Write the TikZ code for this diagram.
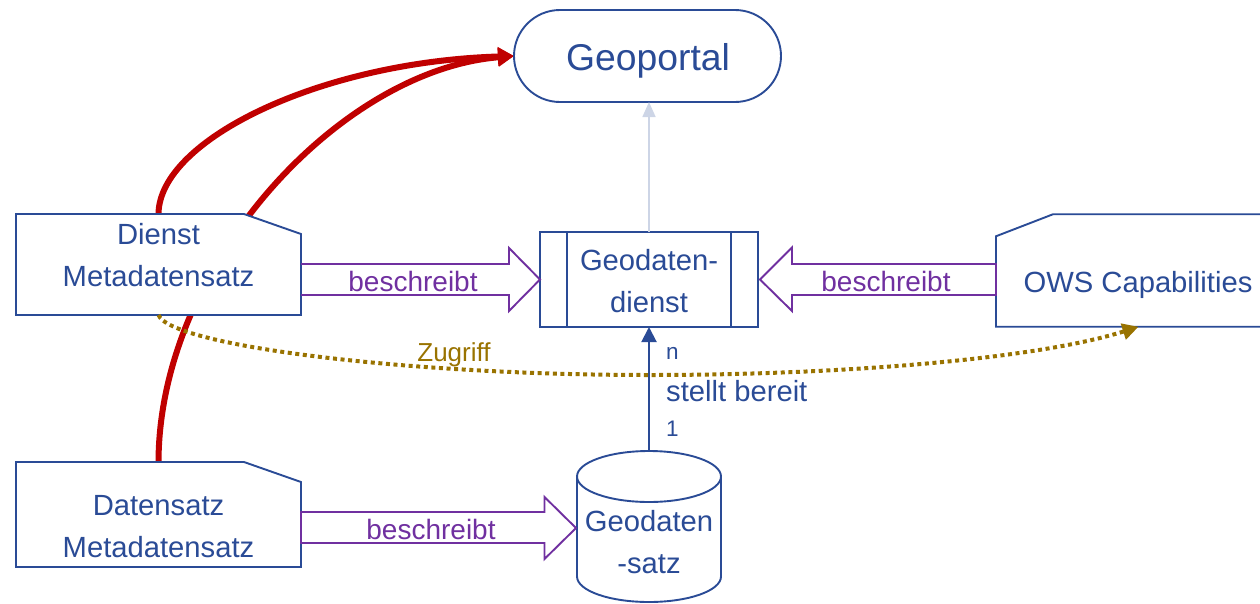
\documentclass[tikz,border=0pt]{standalone}
\usepackage{fontspec}
\setmainfont{Liberation Sans}
\usetikzlibrary{arrows.meta,shapes.misc,calc,backgrounds}
\definecolor{dblue}{HTML}{2A4B96}
\definecolor{dpurple}{HTML}{7030A0}
\definecolor{dred}{HTML}{C00000}
\definecolor{dgold}{HTML}{997300}
\definecolor{dlight}{HTML}{CDD5E6}
\tikzset{
  x=1pt,y=-1pt,
  boxline/.style={draw=dblue,line width=1.9pt,fill=white},
  plainbox/.style={inner sep=0pt,outer sep=0pt},
  blue text/.style={text=dblue,align=center,inner sep=0pt,font=\fontsize{29.2}{42}\selectfont},
  purple text/.style={text=dpurple,inner sep=0pt,font=\fontsize{28}{30}\selectfont},
  blockarrow/.style={draw=dpurple,line width=1.9pt,line join=miter},
  redcurve/.style={draw=dred,line width=6pt,-{Triangle[length=16pt,width=18pt]}},
  goldcurve/.style={draw=dgold,line width=4pt,dash pattern=on 4pt off 3.6pt,
     -{Triangle[length=16pt,width=16pt]}},
}
\begin{document}
\begin{tikzpicture}
\clip (0,0) rectangle (1260,603);

% shapes
\node[boxline,shape=rounded rectangle,inner sep=0pt,outer sep=0pt,minimum width=267pt,minimum height=92pt] (portal) at (647.5,56) {};
\node[plainbox,minimum width=285pt,minimum height=101pt] (dm) at (158.5,264.5) {};
\draw[boxline] (dm.north west) -- ($(dm.north east)+(-57,0)$) -- ($(dm.north east)+(0,20)$) -- (dm.south east) -- (dm.south west) -- cycle;
\node[plainbox,minimum width=285pt,minimum height=105pt] (ddm) at (158.5,514.5) {};
\draw[boxline] (ddm.north west) -- ($(ddm.north east)+(-57,0)$) -- ($(ddm.north east)+(0,20)$) -- (ddm.south east) -- (ddm.south west) -- cycle;
\node[plainbox,minimum width=285pt,minimum height=112.5pt] (ows) at (1138.5,270.5) {};
\draw[boxline] ($(ows.north west)+(57,0)$) -- (ows.north east) -- (ows.south east) -- (ows.south west) -- ($(ows.north west)+(0,22)$) -- cycle;
\node[boxline,plainbox,minimum width=218pt,minimum height=95pt] (gd) at (649,279.5) {};
\draw[boxline] ($(gd.north west)+(27,0)$) -- ($(gd.south west)+(27,0)$);
\draw[boxline] ($(gd.north east)+(-27,0)$) -- ($(gd.south east)+(-27,0)$);
\node[plainbox,minimum width=144pt,minimum height=151pt] (ds) at (649,526.5) {};
\draw[boxline] (577,476.5) -- (577,576.5) .. controls (577,590.6) and (609.2,602) .. (649,602)
   .. controls (688.8,602) and (721,590.6) .. (721,576.5) -- (721,476.5);
\draw[boxline] ($(ds.north)+(0,25.5)$) ellipse [x radius=72, y radius=25.5];

% red curves run behind the boxes
\begin{pgfonlayer}{background}
\draw[redcurve] (ddm.north) .. controls (159,265) and (340,70) .. (portal.west);
\draw[redcurve] (dm.north) .. controls (159,140) and (320,62) .. (portal.west);
\end{pgfonlayer}

% connectors
\draw[draw=dlight,line width=1.6pt,-{Triangle[length=15pt,width=13pt]}] (gd.north) -- (gd.north |- portal.south);
\draw[draw=dblue,line width=2pt,-{Triangle[length=15pt,width=15pt]}] (ds.north) -- (gd.south);
\draw[goldcurve] (dm.south) .. controls (170,345) and (400,375) .. (649,375)
   .. controls (850,375) and (1040,358) .. (ows.south);

% block arrows
\draw[blockarrow] (dm.east |- 0,264) -- (509,264) -- (509,248) -- (gd.west) -- (509,311) -- (509,295) -- (dm.east |- 0,295);
\draw[blockarrow] (ows.west |- 0,264) -- (792,264) -- (792,247.5) -- (760,279.5) -- (792,311) -- (792,295) -- (ows.west |- 0,295) -- cycle;
\draw[blockarrow] (ddm.east |- 0,512) -- (544.5,512) -- (544.5,497) -- (576,528) -- (544.5,559) -- (544.5,543) -- (ddm.east |- 0,543) -- cycle;

% texts
\node[text=dblue,inner sep=0pt,font=\fontsize{37.3}{40}\selectfont] (portalt) at (648,60.5) {Geoportal};
\node[blue text] (dmt) at (158.5,255) {Dienst\\Metadatensatz};
\node[blue text] (ddmt) at (158.5,527) {Datensatz\\Metadatensatz};
\node[blue text] (owst) at (1138,285) {OWS Capabilities};
\node[blue text] (gdt) at (649,281) {Geodaten-\\dienst};
\node[blue text] (dst) at (649,542) {Geodaten\\-satz};
\node[purple text] (b1) at (413,281) {beschreibt};
\node[purple text] (b2) at (886,281) {beschreibt};
\node[purple text] (b3) at (431,529) {beschreibt};
\node[text=dgold,inner sep=0pt,font=\fontsize{26}{28}\selectfont] (zug) at (454,355) {Zugriff};
\node[text=dblue,inner sep=0pt,anchor=west,font=\fontsize{22.5}{24}\selectfont] (nt) at (666,353) {n};
\node[text=dblue,inner sep=0pt,anchor=west,font=\fontsize{29.2}{32}\selectfont] (st) at (666,391) {stellt bereit};
\node[text=dblue,inner sep=0pt,anchor=west,font=\fontsize{22.5}{24}\selectfont] (ot) at (666,429) {1};
\end{tikzpicture}
\end{document}
